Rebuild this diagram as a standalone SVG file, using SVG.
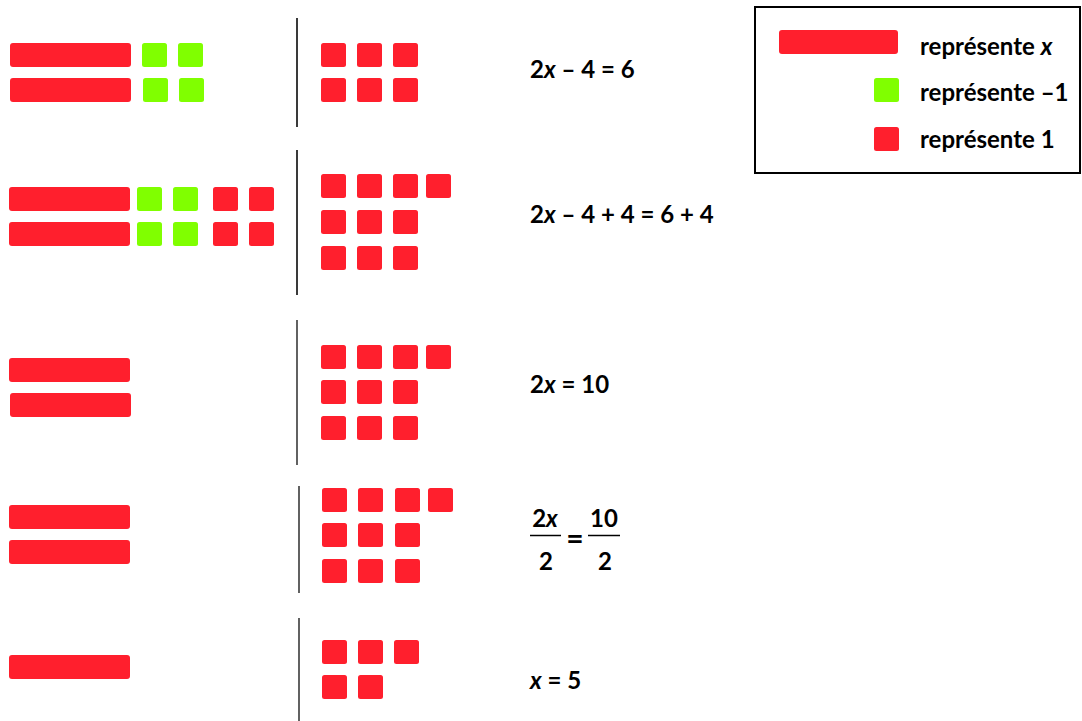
<svg xmlns="http://www.w3.org/2000/svg" width="1082" height="721" viewBox="0 0 1082 721">
<style>
.r{fill:#FF1F2D}
.g{fill:#80FF00}
.div{stroke:#3a3a3a;stroke-width:2;fill:none}
.t{font-family:Lato,"Open Sans","Liberation Sans",sans-serif;font-weight:bold;font-size:24px;fill:#000}
.i{font-style:italic}
</style>
<defs>
<rect id="bar" width="121" height="24" rx="3"/>
<rect id="sq" width="25" height="24" rx="2.5"/>
</defs>
<rect width="1082" height="721" fill="#fff"/>

<g id="row1">
<use href="#bar" class="r" x="10" y="43"/>
<use href="#bar" class="r" x="10" y="78"/>
<use href="#sq" class="g" x="142" y="43"/>
<use href="#sq" class="g" x="178" y="43"/>
<use href="#sq" class="g" x="143" y="78"/>
<use href="#sq" class="g" x="179" y="78"/>
<use href="#sq" class="r" x="321" y="43"/>
<use href="#sq" class="r" x="357" y="43"/>
<use href="#sq" class="r" x="393" y="43"/>
<use href="#sq" class="r" x="321" y="78"/>
<use href="#sq" class="r" x="357" y="78"/>
<use href="#sq" class="r" x="393" y="78"/>
<text class="t" x="530" y="78">2<tspan class="i">x</tspan> – 4 = 6</text>
</g>

<g id="row2">
<use href="#bar" class="r" x="9" y="187"/>
<use href="#bar" class="r" x="9" y="222"/>
<use href="#sq" class="g" x="137" y="187"/>
<use href="#sq" class="g" x="173" y="187"/>
<use href="#sq" class="g" x="137" y="222"/>
<use href="#sq" class="g" x="173" y="222"/>
<use href="#sq" class="r" x="213" y="187"/>
<use href="#sq" class="r" x="249" y="187"/>
<use href="#sq" class="r" x="213" y="222"/>
<use href="#sq" class="r" x="249" y="222"/>
<use href="#sq" class="r" x="321" y="174"/>
<use href="#sq" class="r" x="357" y="174"/>
<use href="#sq" class="r" x="393" y="174"/>
<use href="#sq" class="r" x="426" y="174"/>
<use href="#sq" class="r" x="321" y="210"/>
<use href="#sq" class="r" x="357" y="210"/>
<use href="#sq" class="r" x="393" y="210"/>
<use href="#sq" class="r" x="321" y="246"/>
<use href="#sq" class="r" x="357" y="246"/>
<use href="#sq" class="r" x="393" y="246"/>
<text class="t" x="530" y="223">2<tspan class="i">x</tspan> – 4 + 4 = 6 + 4</text>
</g>

<g id="row3">
<use href="#bar" class="r" x="9" y="358"/>
<use href="#bar" class="r" x="10" y="393"/>
<use href="#sq" class="r" x="321" y="345"/>
<use href="#sq" class="r" x="357" y="345"/>
<use href="#sq" class="r" x="393" y="345"/>
<use href="#sq" class="r" x="426" y="345"/>
<use href="#sq" class="r" x="321" y="380"/>
<use href="#sq" class="r" x="357" y="380"/>
<use href="#sq" class="r" x="393" y="380"/>
<use href="#sq" class="r" x="321" y="416"/>
<use href="#sq" class="r" x="357" y="416"/>
<use href="#sq" class="r" x="393" y="416"/>
<text class="t" x="530" y="393">2<tspan class="i">x</tspan> = 10</text>
</g>

<g id="row4">
<use href="#bar" class="r" x="9" y="505"/>
<use href="#bar" class="r" x="9" y="540"/>
<use href="#sq" class="r" x="322" y="488"/>
<use href="#sq" class="r" x="358" y="488"/>
<use href="#sq" class="r" x="395" y="488"/>
<use href="#sq" class="r" x="428" y="488"/>
<use href="#sq" class="r" x="322" y="523"/>
<use href="#sq" class="r" x="358" y="523"/>
<use href="#sq" class="r" x="395" y="523"/>
<use href="#sq" class="r" x="322" y="559"/>
<use href="#sq" class="r" x="358" y="559"/>
<use href="#sq" class="r" x="395" y="559"/>
<text class="t" x="545" y="527" text-anchor="middle">2<tspan class="i">x</tspan></text>
<line x1="530" y1="535.5" x2="561" y2="535.5" stroke="#000" stroke-width="1.5"/>
<text class="t" x="546" y="570" text-anchor="middle">2</text>
<text class="t" x="575" y="549" text-anchor="middle" style="font-size:30px">=</text>
<text class="t" x="604" y="527" text-anchor="middle">10</text>
<line x1="588" y1="535.5" x2="620" y2="535.5" stroke="#000" stroke-width="1.5"/>
<text class="t" x="605" y="570" text-anchor="middle">2</text>
</g>

<g id="row5">
<use href="#bar" class="r" x="9" y="655"/>
<use href="#sq" class="r" x="322" y="640"/>
<use href="#sq" class="r" x="358" y="640"/>
<use href="#sq" class="r" x="394" y="640"/>
<use href="#sq" class="r" x="322" y="675"/>
<use href="#sq" class="r" x="358" y="675"/>
<text class="t" x="530" y="689"><tspan class="i">x</tspan> = 5</text>
</g>

<g id="connectors">
<line class="div" x1="297" y1="18" x2="297" y2="127"/>
<line class="div" x1="297" y1="150" x2="297" y2="295"/>
<line class="div" x1="297" y1="320" x2="297" y2="465" style="stroke-width:1.6"/>
<line class="div" x1="299" y1="486" x2="299" y2="593" style="stroke-width:1.6"/>
<line class="div" x1="299" y1="618" x2="299" y2="721" style="stroke-width:1.6"/>
</g>

<g id="legend">
<rect x="755" y="7" width="325" height="166" fill="none" stroke="#000" stroke-width="2"/>
<rect class="r" x="779" y="30" width="119" height="24" rx="3"/>
<use href="#sq" class="g" x="874" y="78"/>
<use href="#sq" class="r" x="874" y="127"/>
<text class="t" x="920" y="55">représente <tspan class="i">x</tspan></text>
<text class="t" x="920" y="101">représente –1</text>
<text class="t" x="920" y="148">représente 1</text>
</g>
</svg>
